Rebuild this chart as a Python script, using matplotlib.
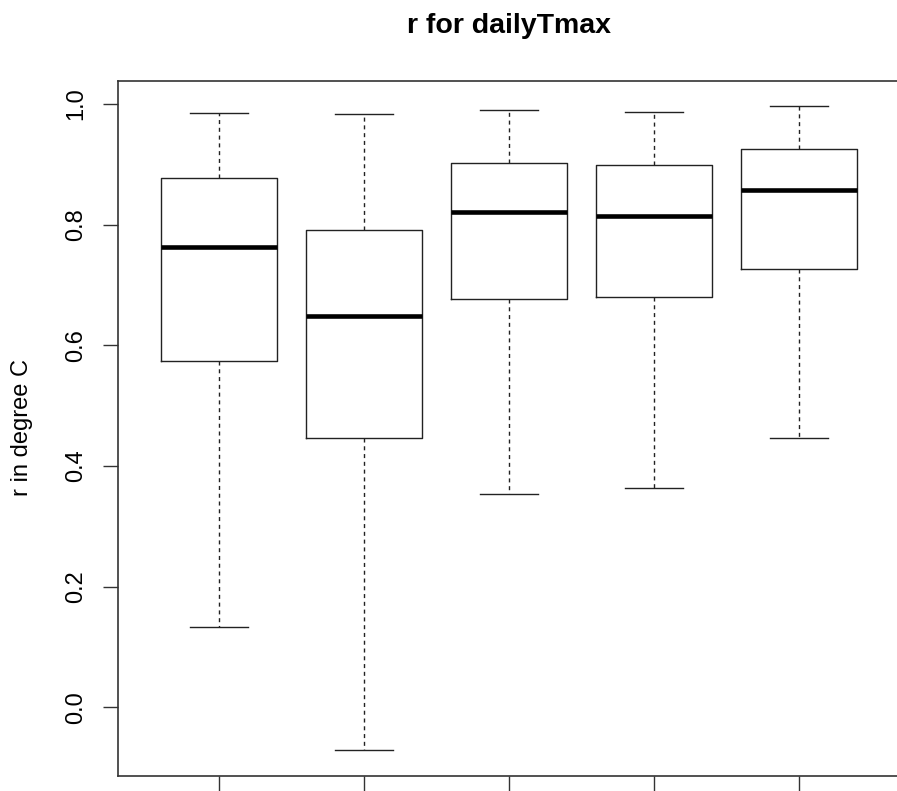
import matplotlib
matplotlib.use("Agg")
import matplotlib.pyplot as plt

plt.rcParams['font.family'] = ['Liberation Sans', 'DejaVu Sans']

# Five-number summaries of r for each group
whisker_low = [0.133, -0.071, 0.353, 0.363, 0.446]
q1 = [0.574, 0.446, 0.677, 0.680, 0.726]
median = [0.763, 0.648, 0.821, 0.814, 0.857]
q3 = [0.877, 0.791, 0.902, 0.899, 0.925]
whisker_high = [0.985, 0.983, 0.990, 0.987, 0.997]
y_ticks = [0.0, 0.2, 0.4, 0.6, 0.8, 1.0]

stats = []
for lo, a, m, b, hi in zip(whisker_low, q1, median, q3, whisker_high):
    stats.append(dict(whislo=lo, q1=a, med=m, q3=b, whishi=hi, fliers=[]))

W, H = 897, 791
fig = plt.figure(figsize=(W / 100, H / 100), dpi=100)
ax = fig.add_axes([118 / W, 15 / H, 782 / W, 695 / H])

positions = list(range(1, len(stats) + 1))
ax.bxp(stats, positions=positions, widths=0.8, showfliers=False,
       boxprops=dict(color='#222222', linewidth=1.0),
       medianprops=dict(color='black', linewidth=3.3, solid_capstyle='butt'),
       whiskerprops=dict(color='#222222', linewidth=1.0, linestyle=(0, (2.9, 2.7))),
       capprops=dict(color='#222222', linewidth=1.0),
       capwidths=0.4)

ax.set_xlim(0.3, 5.7)
ax.set_ylim(-0.114, 1.038)

ax.set_xticks(positions)
ax.set_xticklabels([''] * len(positions))
ax.set_yticks(y_ticks)
ax.set_yticklabels([f"{v:.1f}" for v in y_ticks], rotation=90, va='center')
ax.tick_params(axis='both', length=10.8, width=1.0, color='#333333',
               labelsize=17, pad=11.5)

for s in ax.spines.values():
    s.set_color('#333333')
    s.set_linewidth(1.2)

fig.text(22 / W, 1 - 428 / H, 'r in degree C', rotation=90,
         ha='center', va='center', fontsize=17)
fig.text(509 / W, 1 - 33 / H, 'r for dailyTmax', ha='center', va='baseline',
         fontsize=20.5, fontweight='bold')

fig.savefig('out.png', dpi=100)
